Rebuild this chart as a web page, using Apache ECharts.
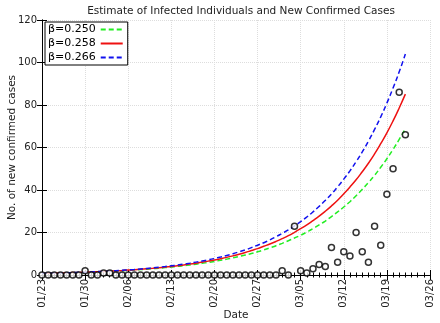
<!DOCTYPE html>
<html>
<head>
<meta charset="utf-8">
<script src="https://cdn.jsdelivr.net/npm/echarts@6/dist/echarts.min.js"></script>
<style>
html, body { margin: 0; padding: 0; background: #fff; }
#chart { width: 440px; height: 323px; }
</style>
</head>
<body>
<div id="chart"></div>
<script>
// tick labels on the date axis (one per week, starting 01/23)
var dateTicks = ['01/23', '01/30', '02/06', '02/13', '02/20', '02/27', '03/05', '03/12', '03/19', '03/26'];

// new confirmed cases per day, from 01/23 (day 0)
var confirmed = [0, 0, 0, 0, 0, 0, 0, 2, 0, 0,
                 1, 1, 0, 0, 0, 0, 0, 0, 0, 0,
                 0, 0, 0, 0, 0, 0, 0, 0, 0, 0,
                 0, 0, 0, 0, 0, 0, 0, 0, 0, 2,
                 0, 23, 2, 1, 3, 5, 4, 13, 6, 11,
                 9, 20, 11, 6, 23, 14, 38, 50, 86, 66];

// estimated infected, beta = 0.250
var beta250 = [0.75, 0.81, 0.87, 0.94, 1.02, 1.10, 1.19, 1.28, 1.39, 1.50,
               1.61, 1.74, 1.88, 2.03, 2.19, 2.36, 2.55, 2.75, 2.97, 3.21,
               3.47, 3.75, 4.04, 4.37, 4.71, 5.09, 5.49, 5.93, 6.40, 6.91,
               7.47, 8.06, 8.70, 9.39, 10.1, 10.9, 11.8, 12.8, 13.8, 14.9,
               16.1, 17.4, 18.7, 20.2, 21.8, 23.6, 25.4, 27.5, 29.7, 32.0,
               34.5, 37.3, 40.3, 43.5, 46.9, 50.7, 54.7, 59.1, 63.8, 68.9];

// estimated infected, beta = 0.258
var beta258 = [0.75, 0.81, 0.88, 0.95, 1.03, 1.12, 1.21, 1.31, 1.42, 1.54,
               1.67, 1.81, 1.96, 2.12, 2.30, 2.49, 2.70, 2.93, 3.17, 3.43,
               3.72, 4.04, 4.37, 4.74, 5.13, 5.56, 6.03, 6.53, 7.07, 7.66,
               8.30, 9.01, 9.77, 10.6, 11.5, 12.4, 13.5, 14.6, 15.8, 17.1,
               18.5, 20.1, 21.8, 23.6, 25.6, 27.7, 30.0, 32.5, 35.2, 38.2,
               41.4, 44.8, 48.6, 52.6, 57.0, 61.8, 66.9, 72.5, 78.6, 85.1];

// estimated infected, beta = 0.266
var beta266 = [0.75, 0.82, 0.89, 0.96, 1.05, 1.14, 1.24, 1.35, 1.46, 1.59,
               1.73, 1.88, 2.05, 2.22, 2.42, 2.63, 2.86, 3.10, 3.37, 3.67,
               3.99, 4.34, 4.72, 5.13, 5.57, 6.06, 6.59, 7.16, 7.79, 8.47,
               9.21, 10.0, 10.9, 11.8, 12.9, 14.0, 15.2, 16.5, 18.0, 19.6,
               21.2, 23.1, 25.1, 27.3, 29.7, 32.3, 35.1, 38.1, 41.5, 45.1,
               49.0, 53.3, 57.9, 63.0, 68.5, 74.4, 80.9, 88.0, 95.6, 104.0];

function pairs(arr) {
	var out = [];
	for (var i = 0; i < arr.length; i++) {
		out.push([i, arr[i]]);
	}
	return out;
}

var font = 'DejaVu Sans';
var myChart = echarts.init(document.getElementById('chart'));

var tickStyle = { show: true, inside: true, length: 5, lineStyle: { color: '#000' } };
var minorStyle = { show: true, splitNumber: 7, length: 2.5, lineStyle: { color: '#000' } };

var option = {
	animation: false,
	backgroundColor: '#fff',
	title: {
		text: 'Estimate of Infected Individuals and New Confirmed Cases',
		left: 236, top: 1, textAlign: 'center',
		textStyle: { fontFamily: font, fontSize: 10.5, fontWeight: 'normal', color: '#222' }
	},
	legend: {
		data: ['β=0.250', 'β=0.258', 'β=0.266'],
		orient: 'vertical',
		left: 45, top: 22,
		align: 'right',
		itemWidth: 22, itemHeight: 8, itemGap: 3,
		padding: [2, 4, 2, 3],
		borderColor: '#000', borderWidth: 1,
		backgroundColor: '#fff',
		itemStyle: { opacity: 0 },
		textStyle: { fontFamily: font, fontSize: 11, color: '#000' }
	},
	grid: { left: 42, right: 10, top: 20, bottom: 48, outerBoundsMode: 'none' },
	xAxis: [{
		type: 'value', min: 0, max: 63, interval: 7,
		name: 'Date', nameLocation: 'middle', nameGap: 35, nameMoveOverlap: false,
		nameTextStyle: { fontFamily: font, fontSize: 10.5, color: '#222' },
		axisLine: { show: true, lineStyle: { color: '#000', width: 1 } },
		axisTick: tickStyle,
		minorTick: minorStyle,
		axisLabel: {
			rotate: 90, fontFamily: font, fontSize: 10, color: '#222', margin: 4,
			formatter: function (v) { return dateTicks[Math.round(v / 7)]; }
		},
		splitLine: { show: true, lineStyle: { color: '#ddd', type: 'dotted' } }
	}, {
		type: 'value', position: 'top', min: 0, max: 63, interval: 7,
		axisLine: { show: true, lineStyle: { color: '#000', width: 1 } },
		axisTick: tickStyle,
		minorTick: minorStyle,
		axisLabel: { show: false },
		splitLine: { show: false }
	}],
	yAxis: [{
		type: 'value', min: 0, max: 120, interval: 20,
		name: 'No. of new confirmed cases', nameLocation: 'middle', nameGap: 24, nameMoveOverlap: false,
		nameTextStyle: { fontFamily: font, fontSize: 10.5, color: '#222' },
		axisLine: { show: true, lineStyle: { color: '#000', width: 1 } },
		axisTick: tickStyle,
		axisLabel: { fontFamily: font, fontSize: 10, color: '#222', margin: 5 },
		splitLine: { show: true, lineStyle: { color: '#ddd', type: 'dotted' } }
	}, {
		type: 'value', position: 'right', min: 0, max: 120, interval: 20,
		axisLine: { show: true, lineStyle: { color: '#000', width: 1 } },
		axisTick: tickStyle,
		axisLabel: { show: false },
		splitLine: { show: false }
	}],
	series: [{
		name: 'β=0.250', type: 'line', data: pairs(beta250),
		symbol: 'none', smooth: true, z: 3,
		lineStyle: { color: '#22ee22', width: 1.5, type: [5, 3] },
		itemStyle: { color: '#22ee22' }
	}, {
		name: 'β=0.258', type: 'line', data: pairs(beta258),
		symbol: 'none', smooth: true, z: 3,
		lineStyle: { color: '#ee1111', width: 1.5, type: 'solid' },
		itemStyle: { color: '#ee1111' }
	}, {
		name: 'β=0.266', type: 'line', data: pairs(beta266),
		symbol: 'none', smooth: true, z: 3,
		lineStyle: { color: '#1111ee', width: 1.5, type: [5, 3] },
		itemStyle: { color: '#1111ee' }
	}, {
		name: 'confirmed', type: 'scatter', data: pairs(confirmed),
		symbol: 'circle', symbolSize: 6, z: 5,
		itemStyle: { color: '#fff', borderColor: '#000', borderWidth: 1.5 }
	}]
};

myChart.setOption(option);
</script>
</body>
</html>
